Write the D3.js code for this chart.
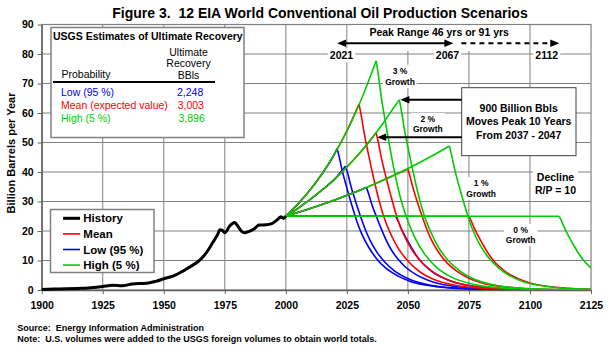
<!DOCTYPE html>
<html><head><meta charset="utf-8">
<script src="https://cdn.jsdelivr.net/npm/d3@7"></script>
<style>
body{margin:0;background:#fff}
svg{display:block;font-family:"Liberation Sans",Arial,Helvetica,sans-serif}
</style>
</head><body>
<svg id="c" width="610" height="356"></svg>
<script>
// ---------------- DATA ----------------
const xTicks = [1900,1925,1950,1975,2000,2025,2050,2075,2100,2125];
const yTicks = [0,10,20,30,40,50,60,70,80,90];

const histYears  = [1900,1905,1910,1915,1919,1925,1929,1933,1937,1940,1943,1945,1947,1950,1954,1957,1960,1965,1968,1970,1972,1973,1974,1975,1977,1979,1980,1982,1983,1985,1987,1989,1992,1994,1996,1997,1998,1999,2000];
const histValues = [0.2,0.3,0.4,0.55,0.7,1.2,1.6,1.45,2.0,2.2,2.3,2.6,3.0,3.8,4.8,6.0,7.5,10.3,13.3,16.0,18.7,20.4,20.2,19.4,21.7,22.9,22.0,19.8,19.4,19.9,20.7,22.0,22.1,22.4,23.5,24.2,24.8,24.3,25.0];

// growth paths from 2000 (year, billion bbl/yr)
const path0 = [[2000,25],[2125,25]];
const path1 = [[2000,25],[2010,27.6],[2020,30.5],[2030,33.7],[2040,37.3],[2050,41.2],[2060,45.5]];
const path2 = [[2000,25],[2005,27.7],[2010,30.7],[2015,34.0],[2020,37.6],[2025,41.7],[2030,46.2],[2035,51.2],[2040,56.7],[2045,62.8]];
const path3 = [[2000,25],[2005,29.2],[2010,34.0],[2015,39.6],[2020,46.2],[2025,53.9],[2030,62.8],[2035,73.2]];

// declines after peak (first point = peak)
const lowFall0 = [[2045,25],[2046,23.3],[2047,21.3],[2049,18.0],[2051,15.0],[2053,12.3],[2055,10.0],[2058,7.5],[2061,5.6],[2065,3.9],[2070,2.4],[2075,1.5],[2085,0.6],[2095,0.24],[2105,0.1],[2125,0.02]];
const lowFall1 = [[2033,34.8],[2034,32.4],[2035,29.6],[2037,25.1],[2039,20.9],[2041,17.1],[2043,13.9],[2046,10.4],[2049,7.8],[2053,5.4],[2058,3.4],[2063,2.1],[2073,0.84],[2083,0.33],[2093,0.14],[2113,0.02],[2125,0]];
const lowFall2 = [[2024.5,42],[2025.5,39.1],[2026.5,35.7],[2028.5,30.2],[2030.5,25.2],[2032.5,20.6],[2034.5,16.8],[2037.5,12.6],[2040.5,9.5],[2044.5,6.5],[2049.5,4.1],[2054.5,2.5],[2064.5,1.0],[2074.5,0.4],[2084.5,0.17],[2104.5,0.03],[2125,0]];
const lowFall3 = [[2021,48],[2022,44.6],[2023,40.8],[2025,34.6],[2027,28.8],[2029,23.5],[2031,19.2],[2034,14.4],[2037,10.8],[2041,7.4],[2046,4.7],[2051,2.9],[2061,1.2],[2071,0.5],[2081,0.2],[2101,0.03],[2125,0]];

const meanFall0 = [[2075,25],[2076,23.3],[2077,21.3],[2079,18.0],[2081,15.0],[2083,12.3],[2085,10.0],[2088,7.5],[2091,5.6],[2095,3.9],[2100,2.4],[2105,1.5],[2115,0.6],[2125,0.24]];
const meanFall1 = [[2050,41],[2051,38.1],[2052,34.9],[2054,29.5],[2056,24.6],[2058,20.1],[2060,16.4],[2063,12.3],[2066,9.2],[2070,6.4],[2075,4.0],[2080,2.5],[2090,1.0],[2100,0.4],[2110,0.16],[2125,0.05]];
const meanFall2 = [[2037,53.3],[2038,49.6],[2039,45.3],[2041,38.4],[2043,32.0],[2045,26.1],[2047,21.3],[2050,16.0],[2053,12.0],[2057,8.3],[2062,5.2],[2067,3.2],[2077,1.3],[2087,0.5],[2097,0.2],[2117,0.04],[2125,0.02]];
const meanFall3 = [[2030,63],[2031,58.6],[2032,53.6],[2034,45.4],[2036,37.8],[2038,30.9],[2040,25.2],[2043,18.9],[2046,14.2],[2050,9.8],[2055,6.1],[2060,3.8],[2070,1.5],[2080,0.6],[2090,0.25],[2110,0.04],[2125,0.01]];

const highFall0 = [[2112,25],[2113,23.3],[2114,21.3],[2116,18.0],[2118,15.0],[2120,12.3],[2122,10.0],[2125,7.5]];
const highFall1 = [[2067,48.8],[2068,45.4],[2069,41.5],[2071,35.1],[2073,29.3],[2075,23.9],[2077,19.5],[2080,14.6],[2083,11.0],[2087,7.6],[2092,4.7],[2097,2.9],[2107,1.2],[2117,0.46],[2125,0.25]];
const highFall2 = [[2046.5,64.5],[2047.5,60.0],[2048.5,54.8],[2050.5,46.4],[2052.5,38.7],[2054.5,31.6],[2056.5,25.8],[2059.5,19.4],[2062.5,14.5],[2066.5,10.0],[2071.5,6.3],[2076.5,3.9],[2086.5,1.5],[2096.5,0.6],[2106.5,0.26],[2125,0.06]];
const highFall3 = [[2037,77.7],[2038,72.3],[2039,66.0],[2041,55.9],[2043,46.6],[2045,38.1],[2047,31.1],[2050,23.3],[2053,17.5],[2057,12.0],[2062,7.5],[2067,4.7],[2077,1.9],[2087,0.74],[2097,0.31],[2117,0.05],[2125,0.03]];

const tableRows   = ["Low (95 %)","Mean (expected value)","High (5 %)"];
const tableValues = ["2,248","3,003","3,896"];
const legendLabels = ["History","Mean","Low (95 %)","High (5 %)"];
const peakYears = [2021,2067,2112];

// ---------------- DRAW ----------------
const C = {blue:"#0000ff", red:"#ff0000", green:"#00cc00", grid:"#808080"};
const svg = d3.select("#c");
svg.append("rect").attr("width",610).attr("height",356).attr("fill","#fff");

const x = d3.scaleLinear().domain([1900,2125]).range([41.7,591]);
const y = d3.scaleLinear().domain([0,90]).range([290,24.5]);

// gridlines
const grid = svg.append("g").attr("stroke",C.grid).attr("stroke-width",1);
xTicks.slice(1,-1).forEach(t=>grid.append("line").attr("x1",x(t)).attr("x2",x(t)).attr("y1",y(0)).attr("y2",y(90)));
yTicks.slice(1,-1).forEach(t=>grid.append("line").attr("x1",x(1900)).attr("x2",x(2125)).attr("y1",y(t)).attr("y2",y(t)));
svg.append("rect").attr("x",x(1900)).attr("y",y(90)).attr("width",x(2125)-x(1900)).attr("height",y(0)-y(90))
  .attr("fill","none").attr("stroke",C.grid).attr("stroke-width",1.2);

// axes
const xAxis = svg.append("g").attr("transform",`translate(0,${y(0)})`)
  .call(d3.axisBottom(x).tickValues(xTicks).tickFormat(d3.format("d")).tickSize(4).tickSizeOuter(0).tickPadding(8));
const yAxis = svg.append("g").attr("transform",`translate(${x(1900)},0)`)
  .call(d3.axisLeft(y).tickValues(yTicks).tickSize(4).tickSizeOuter(0).tickPadding(4));
[xAxis,yAxis].forEach(a=>{
  a.select(".domain").attr("stroke","#606060").attr("stroke-width",1.3);
  a.selectAll(".tick line").attr("stroke","#606060");
  a.selectAll("text").attr("font-family",null).attr("font-size",10.5).attr("font-weight","bold").attr("fill","#000");
});

// axis title
svg.append("text").attr("transform",`translate(14.5,153) rotate(-90)`).attr("text-anchor","middle")
  .attr("font-size",11).attr("font-weight","bold").text("Billion Barrels per Year");

// title
svg.append("text").attr("x",320).attr("y",17.5).attr("text-anchor","middle")
  .attr("font-size",14).attr("font-weight","bold")
  .text("Figure 3.  12 EIA World Conventional Oil Production Scenarios").attr("xml:space","preserve").style("white-space","pre");

// scenarios
svg.append("clipPath").attr("id","pc").append("rect")
  .attr("x",x(1900)).attr("y",y(90)).attr("width",x(2125)-x(1900)).attr("height",y(0)-y(90));
const line = d3.line().x(d=>x(d[0])).y(d=>y(d[1])).curve(d3.curveMonotoneX);
const paths = [path0,path1,path2,path3];
const groups = [
  {color:C.blue, falls:[lowFall0,lowFall1,lowFall2,lowFall3]},
  {color:C.red, falls:[meanFall0,meanFall1,meanFall2,meanFall3]},
  {color:C.green, falls:[highFall0,highFall1,highFall2,highFall3]}
];
const sg = svg.append("g").attr("clip-path","url(#pc)").attr("fill","none").attr("stroke-width",1.6).attr("stroke-linejoin","round");
groups.forEach(g=>{
  g.falls.forEach((fall,i)=>{
    const peak = fall[0];
    const rise = paths[i].filter(p=>p[0]<peak[0]).concat([peak]);
    sg.append("path").attr("d",line(rise)).attr("stroke",g.color);
    sg.append("path").attr("d",line(fall)).attr("stroke",g.color);
  });
});

// history
const hist = histYears.map((yr,i)=>[yr,histValues[i]]);
svg.append("path").attr("d",d3.line().x(d=>x(d[0])).y(d=>y(d[1])).curve(d3.curveMonotoneX)(hist))
  .attr("fill","none").attr("stroke","#000").attr("stroke-width",3).attr("stroke-linejoin","round");

// ---- inset table ----
const tb = svg.append("g");
tb.append("rect").attr("x",51).attr("y",27.5).attr("width",193).attr("height",110)
  .attr("fill","#fff").attr("stroke",C.grid).attr("stroke-width",1.5);
tb.append("text").attr("x",53).attr("y",40).attr("font-size",10.5).attr("font-weight","bold")
  .text("USGS Estimates of Ultimate Recovery");
["Ultimate","Recovery","BBls"].forEach((t,i)=>tb.append("text").attr("x",188.5).attr("y",56+i*11.3)
  .attr("text-anchor","middle").attr("font-size",10.5).text(t));
tb.append("text").attr("x",61.5).attr("y",78).attr("font-size",10.5).text("Probability");
tb.append("line").attr("x1",53).attr("x2",215).attr("y1",82).attr("y2",82).attr("stroke","#000").attr("stroke-width",1.8);
const tcol=[C.blue,C.red,C.green];
tableRows.forEach((t,i)=>{
  tb.append("text").attr("x",61).attr("y",95.5+i*13.3).attr("font-size",10.5).attr("fill",tcol[i]).text(t);
  tb.append("text").attr("x",[177,177.7,178.5][i]).attr("y",95.5+i*13.3).attr("font-size",10.5).attr("fill",tcol[i]).text(tableValues[i]);
});

// ---- legend ----
const lg = svg.append("g");
lg.append("rect").attr("x",50.5).attr("y",209.5).attr("width",103.5).attr("height",63)
  .attr("fill","#fff").attr("stroke",C.grid).attr("stroke-width",1.5);
const lcol=["#000",C.red,C.blue,C.green];
legendLabels.forEach((t,i)=>{
  const cy = 218.3+i*15.6;
  lg.append("line").attr("x1",63).attr("x2",80).attr("y1",cy).attr("y2",cy).attr("stroke",lcol[i]).attr("stroke-width",i===0?3:1.6);
  lg.append("text").attr("x",83.3).attr("y",cy+4).attr("font-size",11.5).attr("font-weight","bold").text(t);
});

// ---- footnotes ----
svg.append("text").attr("x",17.3).attr("y",330.5).attr("font-size",9).attr("font-weight","bold")
  .style("white-space","pre").text("Source:  Energy Information Administration");
svg.append("text").attr("x",17.3).attr("y",342.3).attr("font-size",9).attr("font-weight","bold")
  .style("white-space","pre").text("Note:  U.S. volumes were added to the USGS foreign volumes to obtain world totals.");

// ---- annotations ----
const an = svg.append("g");
function label(lines, cx, cy0, dy, fs, pad, bg){
  const g = an.append("g");
  const texts = lines.map((t,i)=>g.append("text").attr("x",cx).attr("y",cy0+i*dy+fs*0.35)
    .attr("text-anchor","middle").attr("font-size",fs).attr("font-weight","bold").text(t));
  if(bg!==false){
    const bb = g.node().getBBox();
    g.insert("rect","text").attr("x",bb.x-pad).attr("y",bb.y-1).attr("width",bb.width+2*pad).attr("height",bb.height+2).attr("fill","#fff");
  }
  return g;
}
// Peak range box
an.append("rect").attr("x",x(2025)+1).attr("y",y(90)+1).attr("width",x(2100)-x(2025)-2).attr("height",51-y(90)-1).attr("fill","#fff");
label(["Peak Range 46 yrs or 91 yrs"],439.2,32.7,0,10.5,0,false);
const ay = 43.3;
function arrowHead(tx,ty,dir){ // dir: -1 left, +1 right
  an.append("path").attr("d",`M${tx},${ty} L${tx-dir*9},${ty-3.8} L${tx-dir*9},${ty+3.8} Z`).attr("fill","#000");
}
an.append("line").attr("x1",x(peakYears[0])+6).attr("x2",x(peakYears[1])-2).attr("y1",ay).attr("y2",ay).attr("stroke","#000").attr("stroke-width",2);
arrowHead(x(peakYears[0]),ay,-1);
arrowHead(x(peakYears[1])+4,ay,1);
an.append("line").attr("x1",x(peakYears[1])+12).attr("x2",x(peakYears[2])-6).attr("y1",ay).attr("y2",ay)
  .attr("stroke","#000").attr("stroke-width",2).attr("stroke-dasharray","5,4");
arrowHead(x(peakYears[2]),ay,1);
peakYears.forEach((yr,i)=>label([String(yr)],[341.5,447.5,546.7][i],55.7,0,10.5,2));

// growth labels
label(["3 %","Growth"],400,70.7,11.6,8.5,2);
label(["2 %","Growth"],427.8,119,10.3,8.5,2);
label(["1 %","Growth"],481.2,183.3,10.7,8.5,2);
label(["0 %","Growth"],520.7,230,10.2,8.5,2);
label(["Decline","R/P = 10"],555.5,177.3,12.7,10.5,2);

// 900 billion box
an.append("rect").attr("x",461.7).attr("y",87.7).attr("width",114.3).attr("height",68)
  .attr("fill","#fff").attr("stroke","#404040").attr("stroke-width",1);
label(["900 Billion Bbls","Moves Peak 10 Years","From 2037 - 2047"],518.7,108.3,13.35,10.5,0,false);
const arrowTargets = [[2046.5,64.5],[2037,51.8]];
arrowTargets.forEach(t=>{
  const tx = x(t[0])+1, ty = y(t[1]);
  an.append("line").attr("x1",461.7).attr("x2",tx+8).attr("y1",ty).attr("y2",ty).attr("stroke","#000").attr("stroke-width",2);
  arrowHead(tx,ty,-1);
});
</script>
</body></html>
